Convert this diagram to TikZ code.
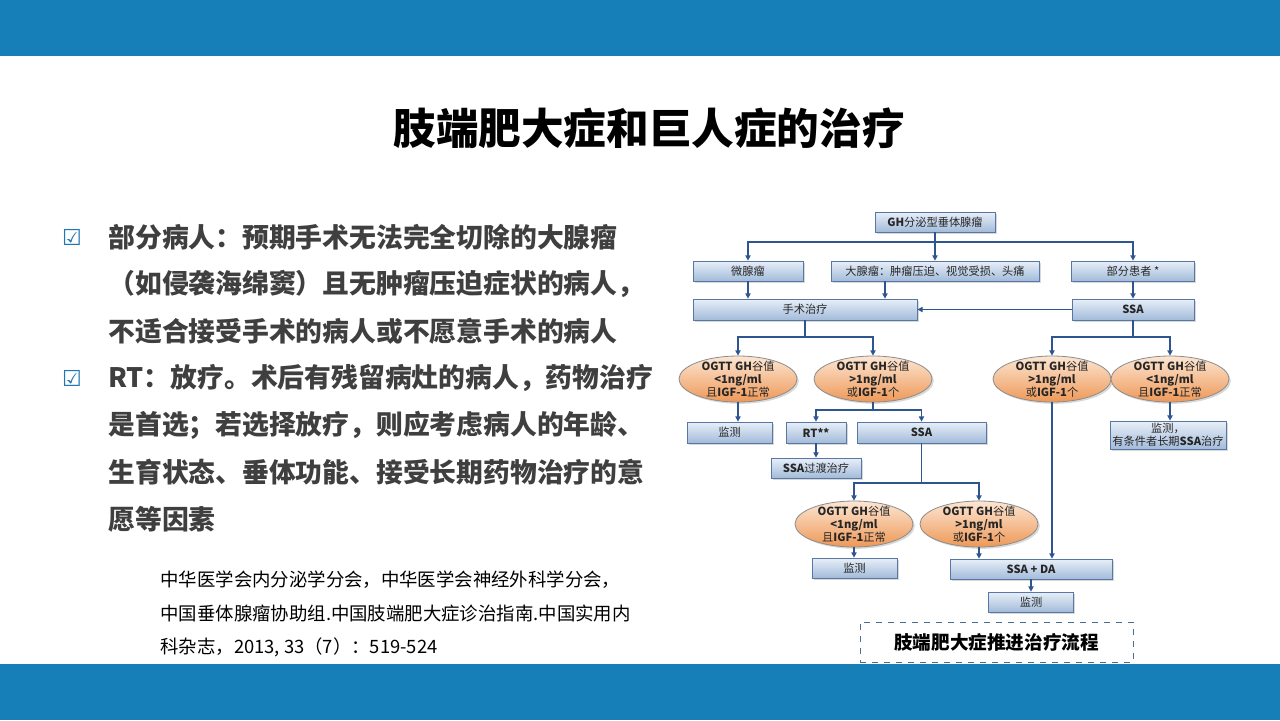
\documentclass[tikz,border=0pt]{standalone}
\usepackage{fontspec}
\setmainfont{Noto Sans CJK SC}
\newfontfamily\symfont{DejaVu Sans}
\usetikzlibrary{shapes.geometric,shadows,arrows.meta,positioning}
\definecolor{barblue}{HTML}{177FB8}
\definecolor{boxtop}{HTML}{E8EFF8}
\definecolor{boxbot}{HTML}{A2BBDA}
\definecolor{boxline}{HTML}{5877A3}
\definecolor{ovtop}{HTML}{FCE6D3}
\definecolor{ovbot}{HTML}{EE9857}
\definecolor{ovline}{HTML}{8C8C8C}
\definecolor{linkblue}{HTML}{2F5590}
\definecolor{bodygray}{HTML}{3F3F3F}
\definecolor{tickblue}{HTML}{1F78B4}
\definecolor{captionline}{HTML}{4A6E96}
\tikzset{
  box/.style={draw=boxline,top color=boxtop,bottom color=boxbot,minimum height=10pt,
    inner sep=1pt,text=black!85,font=\fontsize{5.6}{6.5}\selectfont,
    drop shadow={shadow xshift=0.9pt,shadow yshift=-0.9pt,opacity=0.3}},
  oval/.style={ellipse,draw=ovline,top color=ovtop,bottom color=ovbot,minimum width=59pt,
    minimum height=23pt,inner xsep=0pt,inner ysep=-1.8pt,align=center,text=black!85,
    font=\fontsize{5.6}{6.5}\selectfont,
    drop shadow={shadow xshift=0.9pt,shadow yshift=-0.9pt,opacity=0.3}},
  link/.style={draw=linkblue,line width=0.6pt},
  bodytext/.style={anchor=west,inner sep=0pt,text=bodygray,font=\fontsize{13.4}{14}\selectfont\bfseries},
  reftext/.style={anchor=west,inner sep=0pt,text=black,font=\fontsize{9.2}{10}\selectfont},
  tick/.style={inner sep=0pt,text=tickblue,font=\symfont\bfseries\fontsize{11}{12}\selectfont},
}
\begin{document}
\begin{tikzpicture}[x=0.5pt,y=-0.5pt,>={Triangle[length=2.6pt,width=2.6pt]}]
  \useasboundingbox (0,0) rectangle (1280,720);
  \fill[white] (0,0) rectangle (1280,720);
  \fill[barblue] (0,0) rectangle (1280,56);
  \fill[barblue] (0,664) rectangle (1280,720);
  \node[font=\fontsize{21.3}{24}\selectfont\bfseries] (title) at (649,128) {肢端肥大症和巨人症的治疗};
  % left column
  \node[tick] (tick1) at (72,237) {☑};
  \node[tick] (tick2) at (72,378) {☑};
  \foreach \txt [count=\i] in {部分病人：预期手术无法完全切除的大腺瘤,（如侵袭海绵窦）且无肿瘤压迫症状的病人，,
    不适合接受手术的病人或不愿意手术的病人,RT：放疗。术后有残留病灶的病人，药物治疗,
    是首选；若选择放疗，则应考虑病人的年龄、,生育状态、垂体功能、接受长期药物治疗的意,愿等因素}
    \node[bodytext] (line\i) at (108,{237+47*(\i-1)}) {\txt};
  \node[reftext] (ref1) at (160,580) {中华医学会内分泌学分会，中华医学会神经外科学分会，};
  \node[reftext] (ref2) at (160,613) {中国垂体腺瘤协助组.中国肢端肥大症诊治指南.中国实用内};
  \node[reftext] (ref3) at (160,647) {科杂志，2013, 33（7）：519-524};
  % flow chart
  \node[box,minimum width=60pt] (gh) at (935,222) {{\bfseries GH}分泌型垂体腺瘤};
  \node[box,minimum width=55pt] (micro) at (748,271) {微腺瘤};
  \node[box,minimum width=104pt] (macro) at (935,271) {大腺瘤：肿瘤压迫、视觉受损、头痛};
  \node[box,minimum width=61.5pt] (some) at (1133,271) {部分患者 *};
  \node[box,minimum width=112pt,minimum height=10.5pt] (surg) at (805,309.5) {手术治疗};
  \node[box,minimum width=61pt,minimum height=10.5pt] (ssa) at (1133,309.5) {\bfseries SSA};
  \node[oval] (oa) at (738,379) {{\bfseries OGTT GH}谷值\\{\bfseries <1ng/ml}\\且{\bfseries IGF-1}正常};
  \node[oval] (ob) at (873,379) {{\bfseries OGTT GH}谷值\\{\bfseries >1ng/ml}\\或{\bfseries IGF-1}个};
  \node[oval] (oc) at (1052,379) {{\bfseries OGTT GH}谷值\\{\bfseries >1ng/ml}\\或{\bfseries IGF-1}个};
  \node[oval] (od) at (1170,379) {{\bfseries OGTT GH}谷值\\{\bfseries <1ng/ml}\\且{\bfseries IGF-1}正常};
  \node[box,minimum width=42.5pt,minimum height=10.5pt] (mon1) at (729.5,432.5) {监测};
  \node[box,minimum width=30pt,minimum height=10.5pt] (rt) at (816,432.5) {\bfseries RT**};
  \node[box,minimum width=64.5pt,minimum height=10.5pt] (ssa2) at (921.5,432.5) {\bfseries SSA};
  \node[box,minimum width=58pt,minimum height=14pt,align=center] (mon4) at (1168,435) {监测，\\有条件者长期{\bfseries SSA}治疗};
  \node[box,minimum width=45pt] (trans) at (816,468) {{\bfseries SSA}过渡治疗};
  \node[oval] (oe) at (854,524) {{\bfseries OGTT GH}谷值\\{\bfseries <1ng/ml}\\且{\bfseries IGF-1}正常};
  \node[oval] (of) at (979,524) {{\bfseries OGTT GH}谷值\\{\bfseries >1ng/ml}\\或{\bfseries IGF-1}个};
  \node[box,minimum width=42.5pt] (mon2) at (854.5,568) {监测};
  \node[box,minimum width=81pt] (ssada) at (1031,569) {\bfseries SSA + DA};
  \node[box,minimum width=42.5pt] (mon3) at (1031,602) {监测};
  \node[draw=captionline,dashed,minimum width=136.5pt,minimum height=20pt,
    font=\fontsize{9.3}{10}\selectfont\bfseries] (flowtitle) at (996.5,642) {肢端肥大症推进治疗流程};
  % connectors
  \coordinate (s1) at (935,242);
  \coordinate (cut) at (885,0);
  \coordinate (s2) at (805,337);
  \coordinate (s3) at (1133,337);
  \coordinate (s4) at (873,410);
  \coordinate (s5) at (921.5,483);
  \draw[link,->] (gh) -- (macro);
  \draw[link,->] (s1) -| (micro.north);
  \draw[link,->] (s1) -| (some.north);
  \draw[link,->] (micro) -- (micro |- surg.north);
  \draw[link,->] (macro.south -| cut) -- (surg.north -| cut);
  \draw[link,->] (some) -- (ssa);
  \draw[link,->] (ssa) -- (surg);
  \draw[link] (surg) -- (s2);
  \draw[link,->] (s2) -| (oa.north);
  \draw[link,->] (s2) -| (ob.north);
  \draw[link] (ssa) -- (s3);
  \draw[link,->] (s3) -| (oc.north);
  \draw[link,->] (s3) -| (od.north);
  \draw[link,->] (oa) -- (oa |- mon1.north);
  \draw[link] (ob) -- (s4);
  \draw[link,->] (s4) -| (rt.north);
  \draw[link,->] (s4) -| (ssa2.north);
  \draw[link,->] (rt) -- (rt |- trans.north);
  \draw[link,->] (od) -- (od |- mon4.north);
  \draw[link] (ssa2) -- (s5);
  \draw[link,->] (s5) -| (oe.north);
  \draw[link,->] (s5) -| (of.north);
  \draw[link,->] (oe) -- (oe |- mon2.north);
  \draw[link,->] (of) -- (of |- ssada.north);
  \draw[link,->] (oc) -- (oc |- ssada.north);
  \draw[link,->] (ssada) -- (mon3);
\end{tikzpicture}
\end{document}
